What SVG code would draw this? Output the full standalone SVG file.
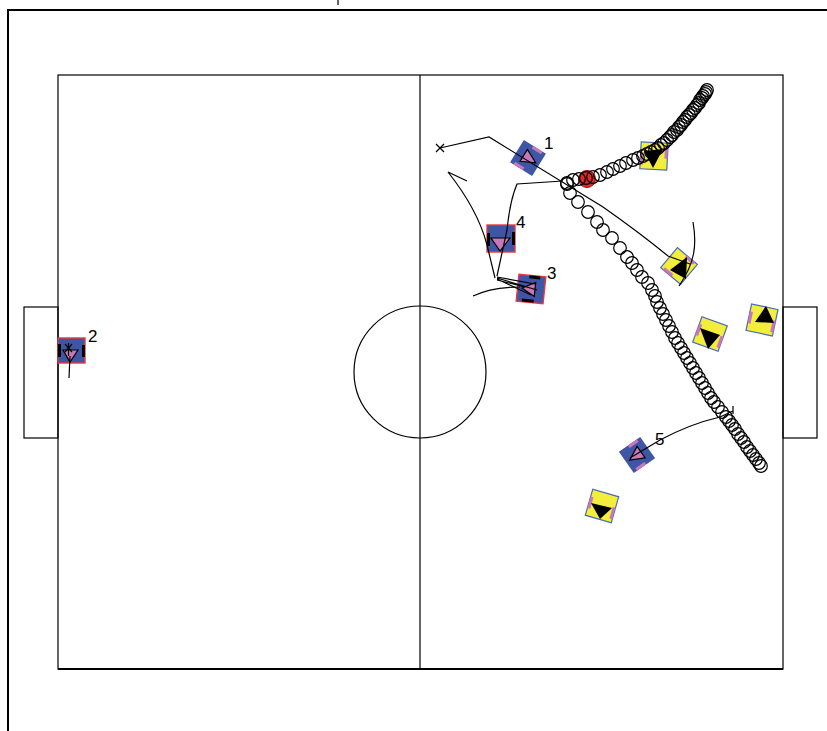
<svg xmlns="http://www.w3.org/2000/svg" width="827" height="731" viewBox="0 0 827 731">
<style>
.ln{fill:none;stroke:#000;stroke-width:1.2}
.fr{fill:none;stroke:#000;stroke-width:2}
.bl{fill:#3f56a6}
.rb{fill:#3f56a6;stroke:#e8383a;stroke-width:1.4}
.pk{fill:#c878b8}
.bk{fill:#000}
.ptri{fill:#c878b8;stroke:#000;stroke-width:1.2}
.yl{fill:#f2ee3a;stroke:#4a6ac0;stroke-width:1.2}
.lbl{font-family:"Liberation Sans",Arial,sans-serif;font-size:17px;fill:#000}
.trail{fill:none;stroke:none;marker-start:url(#ring);marker-mid:url(#ring);marker-end:url(#ring)}
</style>
<defs>
<marker id="ring" markerUnits="userSpaceOnUse" markerWidth="16" markerHeight="16" refX="8" refY="8" overflow="visible">
<circle cx="8" cy="8" r="6.3" fill="none" stroke="#000" stroke-width="1.2"/>
</marker>
</defs>
<rect width="827" height="731" fill="#fff"/>
<g id="frame">
<path class="fr" d="M8,731 V10 H827"/>
<path class="ln" d="M338,0 V5"/>
<rect class="ln" x="58" y="75" width="725" height="594"/>
<path class="fr" d="M58,669 H783"/>
<path class="ln" d="M420,75 V669"/>
<circle class="ln" cx="420" cy="372" r="66"/>
<rect class="ln" x="24" y="307" width="34" height="131"/>
<rect class="ln" x="783" y="307" width="34" height="131"/>
</g>
<g id="robot1">
<g transform="translate(528,158) rotate(32)">
<rect class="bl" x="-13" y="-13" width="26" height="26"/>
<rect class="pk" x="-2" y="-13" width="11" height="3"/>
<rect class="pk" x="-9" y="10" width="11" height="3"/>
<polygon class="ptri" points="9,0 -5,-7 -5,7"/>
</g>
</g>
<g id="robot2">
<rect class="rb" x="58" y="338" width="27" height="25"/>
<rect class="bk" x="58" y="344" width="3" height="13"/>
<rect class="bk" x="82" y="345" width="3" height="12"/>
<polygon class="ptri" points="63,350 78,350 70,362"/>
<path class="ln" d="M65,344 L72,352 M72,344 L65,352 M68.5,343 V356"/>
</g>
<g id="robot3">
<g transform="translate(531,289) rotate(6)">
<rect class="rb" x="-13.5" y="-13.5" width="27" height="27"/>
<rect class="bk" x="-3" y="-13.5" width="11" height="3"/>
<rect class="bk" x="-8" y="10.5" width="12" height="3"/>
<polygon class="ptri" points="-9,0 4,-7 4,7"/>
</g>
</g>
<g id="robot4">
<rect class="rb" x="487" y="225" width="28" height="27"/>
<rect class="bk" x="487" y="233" width="3" height="13"/>
<rect class="bk" x="512" y="232" width="3" height="13"/>
<polygon class="ptri" points="491,238 510,238 500,251"/>
</g>
<g id="robot5">
<g transform="translate(637,455) rotate(145)">
<rect class="bl" x="-13" y="-13" width="26" height="26"/>
<rect class="pk" x="-2" y="-13" width="11" height="3"/>
<rect class="pk" x="-9" y="10" width="11" height="3"/>
<polygon class="ptri" points="9,0 -5,-7 -5,7"/>
</g>
</g>
<g id="opp1">
<g transform="translate(654,156) rotate(3)">
<rect class="yl" x="-13.5" y="-13.5" width="27" height="27"/>
<rect class="pk" x="-13.5" y="-3" width="3" height="12"/>
<rect class="pk" x="10.5" y="-10" width="3" height="12"/>
</g>
<polygon class="bk" points="644,151 663,149 653,168"/>
</g>
<g id="opp2">
<g transform="translate(679,266) rotate(40)">
<rect class="yl" x="-13" y="-13" width="26" height="26"/>
<rect class="pk" x="-1" y="-13" width="11" height="3"/>
<rect class="pk" x="-10" y="10" width="11" height="3"/>
</g>
<polygon class="bk" points="670,270 687,257 686,279"/>
</g>
<g id="opp3">
<g transform="translate(710,334) rotate(20)">
<rect class="yl" x="-13.5" y="-13.5" width="27" height="27"/>
<rect class="pk" x="-13.5" y="-6" width="3" height="12"/>
<rect class="pk" x="10.5" y="-2" width="3" height="12"/>
</g>
<polygon class="bk" points="700,328 720,335 708,349"/>
</g>
<g id="opp4">
<g transform="translate(762,320) rotate(12)">
<rect class="yl" x="-13.5" y="-13.5" width="27" height="27"/>
<rect class="pk" x="-13.5" y="-6" width="3" height="12"/>
<rect class="pk" x="10.5" y="-2" width="3" height="12"/>
</g>
<polygon class="bk" points="766,306 755,322 774,323"/>
</g>
<g id="opp5">
<g transform="translate(602,506) rotate(16)">
<rect class="yl" x="-13.5" y="-13.5" width="27" height="27"/>
<rect class="pk" x="-13.5" y="-6" width="3" height="12"/>
<rect class="pk" x="10.5" y="-2" width="3" height="12"/>
</g>
<polygon class="bk" points="591,503 612,508 600,519"/>
</g>
<g id="ball">
<circle cx="587" cy="179" r="8.5" fill="#e02828" stroke="#a01010" stroke-width="1"/>
</g>
<g id="ball-trail">
<polyline class="trail" points="707,90 706,92 705,94 703,96 702,98 700,100 699,103 697,105 695,108 693,110 691,113 689,115 687,117 685,120 683,122 681,125 679,127 677,130 674,132 672,135 670,137 667,140 664,143 661,145 658,148 655,150 651,152 647,154 643,156 638,158 633,160 626,163 620,166 613,169 607,172 600,175 593,177 586,178 579,179 573,180 567,183"/>
<polyline class="trail" points="567,184 570,193 578,202 588,212 597,222 603,230 612,238 620,248 627,257 632,263 637,270 642,277 648,283 652,290 655,296 657,302 660,308 663,314 666,320 669,326 672,332 675,338 678,343 681,348 684,353 687,358 690,363 693,368 696,373 699,378 702,383 705,388 708,393 711,398 714,402 718,407 722,412 726,417 729,421 732,425 735,429 738,434 741,438 744,442 747,447 750,451 753,455 756,459 759,463 761,466"/>
</g>
<g id="connectors">
<path class="ln" d="M436,144 L444,152 M444,144 L436,152"/>
<path class="ln" d="M440,148 L489,137 L603,207 Q640,233 668,256 L690,264"/>
<path class="ln" d="M693,222 C697,245 695,263 679,286"/>
<path class="ln" d="M563,181 L517,184 Q510,200 507,230 L497,276"/>
<path class="ln" d="M467,181 L448,172 Q478,210 487,245 L495,278"/>
<path class="ln" d="M497,277 L535,284 M497,278 L537,290 M497,279 L531,295 M497,280 L525,287"/>
<path class="ln" d="M473,296 Q492,287 520,287"/>
<path class="ln" d="M733,406 V414 M733,411 L720,417 Q690,424 660,440 L630,458"/>
<path class="ln" d="M70,356 L69,378"/>
</g>
<g id="labels">
<text class="lbl" x="544" y="149">1</text>
<text class="lbl" x="88" y="342">2</text>
<text class="lbl" x="547" y="279">3</text>
<text class="lbl" x="516" y="228">4</text>
<text class="lbl" x="655" y="445">5</text>
</g>
</svg>
